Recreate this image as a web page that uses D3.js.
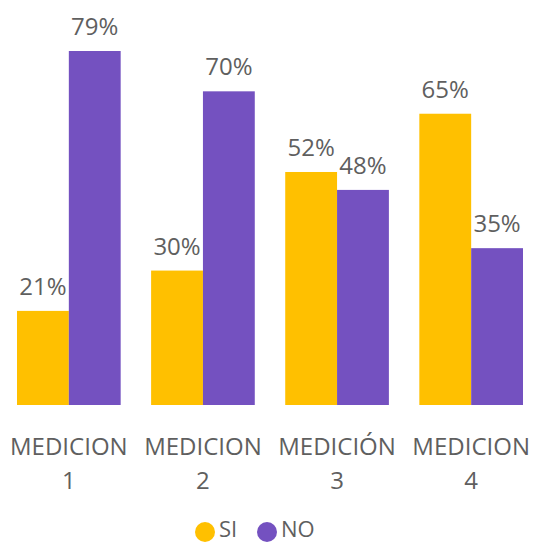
<!DOCTYPE html>
<html>
<head>
<meta charset="utf-8">
<script src="https://cdn.jsdelivr.net/npm/d3@7"></script>
<style>
  html, body { margin: 0; padding: 0; background: #fff; }
  svg { display: block; }
  text { font-family: "Open Sans", "Segoe UI", sans-serif; fill: #5f5f5f; }
</style>
</head>
<body>
<svg id="chart" width="536" height="543"></svg>
<script>
const categories = [["MEDICION", "1"], ["MEDICION", "2"], ["MEDICIÓN", "3"], ["MEDICION", "4"]];
const seriesNames = ["SI", "NO"];
const siValues = [21, 30, 52, 65];
const noValues = [79, 70, 48, 35];
const colors = ["#FFC000", "#7451C0"];

const svg = d3.select("#chart");
const baseY = 405;

const x0 = d3.scaleBand().domain(d3.range(categories.length)).range([17, 523]).paddingInner(0.227).paddingOuter(0);
const x1 = d3.scaleBand().domain(seriesNames).range([0, x0.bandwidth()]).padding(0);
const y = d3.scaleLinear().domain([0, 79]).range([baseY, 51]);
const color = d3.scaleOrdinal().domain(seriesNames).range(colors);

const data = categories.map((c, i) => ({ i, vals: [ {s: "SI", v: siValues[i]}, {s: "NO", v: noValues[i]} ] }));

const groups = svg.selectAll("g.grp").data(data).join("g")
  .attr("class", "grp")
  .attr("transform", d => `translate(${x0(d.i)},0)`);

groups.selectAll("rect").data(d => d.vals).join("rect")
  .attr("x", d => x1(d.s))
  .attr("y", d => y(d.v))
  .attr("width", x1.bandwidth())
  .attr("height", d => baseY - y(d.v))
  .attr("fill", d => color(d.s));

groups.selectAll("text.lbl").data(d => d.vals).join("text")
  .attr("class", "lbl")
  .attr("x", d => x1(d.s) + x1.bandwidth() / 2)
  .attr("y", d => y(d.v) - 16)
  .attr("text-anchor", "middle")
  .style("font-size", "24px")
  .text(d => d.v + "%");

// category axis labels
const axis = svg.append("g");
categories.forEach((c, i) => {
  const cx = x0(i) + x0.bandwidth() / 2;
  const t = axis.append("text")
    .attr("x", cx)
    .attr("text-anchor", "middle")
    .style("font-size", "24px");
  t.append("tspan").attr("x", cx).attr("y", 455).text(c[0]);
  t.append("tspan").attr("x", cx).attr("y", 489).text(c[1]);
});

// legend
const legendItems = [{s: "SI", cx: 205}, {s: "NO", cx: 267}];
const lg = svg.append("g").selectAll("g").data(legendItems).join("g");
lg.append("circle").attr("cx", d => d.cx).attr("cy", 532).attr("r", 10).attr("fill", d => color(d.s));
lg.append("text").attr("x", d => d.cx + 14).attr("y", 537)
  .style("font-size", "22px").text(d => d.s);
</script>
</body>
</html>
